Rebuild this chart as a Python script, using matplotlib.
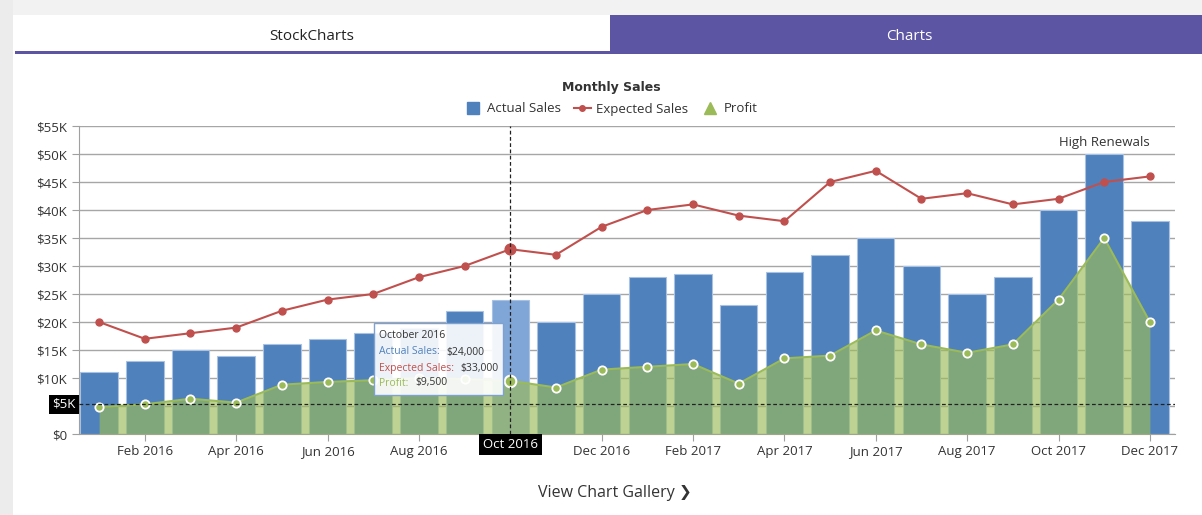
import numpy as np
import matplotlib.pyplot as plt
from matplotlib.patches import Rectangle
from matplotlib.lines import Line2D
import matplotlib.transforms as mtransforms

plt.rcParams['font.family'] = ['Open Sans', 'DejaVu Sans']

# data (Jan 2016 .. Dec 2017)
months = ['Jan 2016', 'Feb 2016', 'Mar 2016', 'Apr 2016', 'May 2016', 'Jun 2016',
          'Jul 2016', 'Aug 2016', 'Sep 2016', 'Oct 2016', 'Nov 2016', 'Dec 2016',
          'Jan 2017', 'Feb 2017', 'Mar 2017', 'Apr 2017', 'May 2017', 'Jun 2017',
          'Jul 2017', 'Aug 2017', 'Sep 2017', 'Oct 2017', 'Nov 2017', 'Dec 2017']
actual_sales = [11000, 13000, 15000, 14000, 16000, 17000, 18000, 19000, 22000, 24000, 20000, 25000,
                28000, 28500, 23000, 29000, 32000, 35000, 30000, 25000, 28000, 40000, 50000, 38000]
expected_sales = [20000, 17000, 18000, 19000, 22000, 24000, 25000, 28000, 30000, 33000, 32000, 37000,
                  40000, 41000, 39000, 38000, 45000, 47000, 42000, 43000, 41000, 42000, 45000, 46000]
profit = [4800, 5300, 6300, 5600, 8800, 9300, 9600, 10000, 9800, 9500, 8300, 11500,
          12000, 12500, 9000, 13500, 14000, 18500, 16000, 14500, 16000, 24000, 35000, 20000]
hover = 9  # Oct 2016
hover_y = 5300
y_ticks = list(range(0, 55001, 5000))
y_labels = ['$0'] + ['$%dK' % (v // 1000) for v in y_ticks[1:]]

BLUE = '#4F81BD'
RED = '#C0504D'
GREEN = '#9BBB59'
PURPLE = '#5B55A3'

W, H = 1202, 515
fig = plt.figure(figsize=(W / 100, H / 100), dpi=100, facecolor='white')

# page chrome (pixel coords)
bg = fig.add_axes([0, 0, 1, 1], zorder=0)
bg.set_xlim(0, W); bg.set_ylim(H, 0); bg.axis('off')
bg.add_patch(Rectangle((0, 0), W, 15, color='#f2f2f2', lw=0))
bg.add_patch(Rectangle((0, 0), 13, H, color='#ececec', lw=0))
bg.add_patch(Rectangle((15, 15), 595, 37, color='white', lw=0))
bg.add_patch(Rectangle((15, 51), 595, 3, color=PURPLE, lw=0))
bg.add_patch(Rectangle((610, 15), W - 610, 39, color=PURPLE, lw=0))
bg.text(312, 36, 'StockCharts', ha='center', va='center', fontsize=11, color='#222222')
bg.text(909, 36, 'Charts', ha='center', va='center', fontsize=11, color='white')
bg.text(606, 493, 'View Chart Gallery', ha='center', va='center', fontsize=11.5, color='#333333')
bg.text(679, 493, '\u276F', ha='left', va='center', fontsize=11, color='#333333',
        family='DejaVu Sans', fontweight='bold')

fig.text(611 / W, 1 - 88 / H, 'Monthly Sales', ha='center', va='center', fontsize=9,
         fontweight='bold', color='#333333', family=['Liberation Sans Narrow', 'DejaVu Sans'])

handles = [Line2D([], [], ls='none', marker='s', ms=9, color=BLUE),
           Line2D([], [], color=RED, lw=1.5, marker='o', ms=4),
           Line2D([], [], ls='none', marker='^', ms=9, color=GREEN)]
fig.legend(handles, ['Actual Sales', 'Expected Sales', 'Profit'], loc='center',
           bbox_to_anchor=(611 / W, 1 - 109 / H), ncol=3, frameon=False, fontsize=9.5,
           handlelength=1.3, handletextpad=0.4, columnspacing=1.0, labelcolor='#333333')

# main chart
ax = fig.add_axes([79 / W, 1 - 434 / H, 1096 / W, 308 / H], zorder=1)
ax.patch.set_alpha(0)
x = np.arange(len(months))

bar_colors = [BLUE] * len(x)
bar_colors[hover] = '#7FA6D6'
ax.bar(x, actual_sales, width=0.82, color=bar_colors, edgecolor='#a9c2e2', linewidth=0.8, zorder=2)

ax.fill_between(x, profit, 0, color=GREEN, alpha=0.65, lw=0, zorder=3)
ax.plot(x, profit, color=GREEN, lw=1.5, zorder=4)
ax.scatter(x, profit, s=36, color=GREEN, edgecolor='white', linewidth=1.3, zorder=5)

ax.plot(x, expected_sales, color=RED, lw=1.5, marker='o', ms=5, zorder=5)

# hovered points
ax.scatter([hover], [expected_sales[hover]], s=60, color=RED, zorder=6)
ax.scatter([hover], [profit[hover]], s=70, color=GREEN, edgecolor='white', linewidth=1.5, zorder=6)

ax.set_xlim(-0.44, 23.55)
ax.set_ylim(0, 55000)
# labels under the crosshair badges are hidden by them in the original
ylab = list(y_labels)
ylab[1] = ''
xlab = [m if i != hover else '' for i, m in enumerate(months)]
ax.set_yticks(y_ticks)
ax.set_yticklabels(ylab)
ax.set_xticks(x[1::2])
ax.set_xticklabels(xlab[1::2])
ax.yaxis.grid(True, color='#a6a6a6', lw=1)
ax.set_axisbelow(True)
for s in ['top', 'right']:
    ax.spines[s].set_visible(False)
for s in ['left', 'bottom']:
    ax.spines[s].set_color('#a0a0a0')
ax.tick_params(axis='both', colors='#a0a0a0', labelcolor='#333333', labelsize=9.5, length=5)
ax.tick_params(axis='x', pad=3)

# crosshair
ax.axvline(hover, color='#222222', ls=(0, (3, 2)), lw=0.9, zorder=7)
ax.axhline(hover_y, color='#222222', ls=(0, (3, 2)), lw=0.9, zorder=7)
tr_x = mtransforms.blended_transform_factory(ax.transData, ax.transAxes)
tr_y = mtransforms.blended_transform_factory(ax.transAxes, ax.transData)
ax.text(hover, -0.014, months[hover], transform=tr_x, ha='center', va='top', fontsize=9.5,
        color='white', zorder=9, bbox=dict(boxstyle='square,pad=0.3', fc='black', ec='none'))
ax.text(-0.003, hover_y, '$5K', transform=tr_y, ha='right', va='center', fontsize=9.5,
        color='white', zorder=9, bbox=dict(boxstyle='square,pad=0.25', fc='black', ec='none'))

ax.text(22, 50900, 'High Renewals', ha='center', va='bottom', fontsize=9.5, color='#333333')

# tooltip
fg = fig.add_axes([0, 0, 1, 1], zorder=3)
fg.set_xlim(0, W); fg.set_ylim(H, 0); fg.axis('off')
fg.add_patch(Rectangle((374, 323), 129, 72, fc='white', alpha=0.9, ec='none'))
fg.add_patch(Rectangle((374, 323), 129, 72, fc='none', ec='#7fa1cf', lw=1))
fs = 7.5
fg.text(379, 336, 'October 2016', fontsize=fs, color='#333333', va='center')
fg.text(379, 352, 'Actual Sales:', fontsize=fs, color=BLUE, va='center')
fg.text(446, 352, '$24,000', fontsize=fs, color='#333333', va='center')
fg.text(379, 368, 'Expected Sales:', fontsize=fs, color=RED, va='center')
fg.text(460, 368, '$33,000', fontsize=fs, color='#333333', va='center')
fg.text(379, 383, 'Profit:', fontsize=fs, color=GREEN, va='center')
fg.text(415, 383, '$9,500', fontsize=fs, color='#333333', va='center')

fig.savefig('out.png', dpi=100)
